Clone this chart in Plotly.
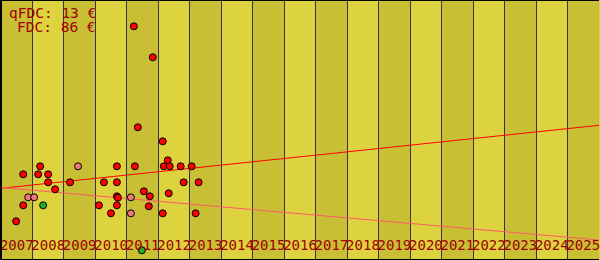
import plotly.graph_objects as go

# ---- data ----
years = list(range(2007, 2026))
year_labels = [str(y) for y in years]

fdc_x = [2006.98, 2007.206, 2007.206, 2007.681, 2007.744, 2007.998, 2007.998, 2008.219,
         2008.694, 2009.613, 2009.771, 2009.993, 2010.183, 2010.183, 2010.183, 2010.214,
         2010.183, 2010.721, 2010.753, 2010.848, 2011.038, 2011.196, 2011.228, 2011.323,
         2011.639, 2011.639, 2011.671, 2011.798, 2011.829, 2011.861, 2012.209, 2012.304,
         2012.558, 2012.684, 2012.779]
fdc_y = [38.7, 85.7, 54.7, 85.7, 93.7, 85.7, 77.7, 70.7,
         77.7, 54.7, 77.7, 46.7, 93.7, 77.7, 63.7, 62.3,
         54.7, 233.7, 93.7, 132.7, 68.7, 53.7, 63.7, 202.7,
         118.7, 46.7, 93.7, 99.7, 66.7, 93.7, 93.7, 77.7,
         93.7, 46.7, 77.7]

qfdc_x = [2007.364, 2007.554, 2008.948, 2010.626, 2010.626]
qfdc_y = [62.7, 62.7, 93.7, 62.7, 46.7]

other_x = [2007.839, 2010.974]
other_y = [54.7, 9.7]

trend_x = [2006.5, 2025.5]
fdc_trend = [71.7, 134.7]
qfdc_trend = [72.5, 20.0]

summary_lines = ["qFDC: 13 €", "FDC: 86 €"]

# ---- styles ----
DARK_BAND = "#c9bf35"
LIGHT_BAND = "#ddd33e"
TEXT_RED = "#a00000"
MONO = "DejaVu Sans Mono"

fig = go.Figure()

fig.add_trace(go.Scatter(x=trend_x, y=fdc_trend, mode="lines",
                         line=dict(color="#ff0000", width=1), hoverinfo="skip"))
fig.add_trace(go.Scatter(x=trend_x, y=qfdc_trend, mode="lines",
                         line=dict(color="#ff5a6a", width=1), hoverinfo="skip"))

marker_line = dict(color="#000000", width=1)
fig.add_trace(go.Scatter(x=fdc_x, y=fdc_y, mode="markers",
                         marker=dict(color="#ff0000", size=7, line=marker_line)))
fig.add_trace(go.Scatter(x=qfdc_x, y=qfdc_y, mode="markers",
                         marker=dict(color="#f07878", size=7, line=marker_line)))
fig.add_trace(go.Scatter(x=other_x, y=other_y, mode="markers",
                         marker=dict(color="#20b020", size=7, line=marker_line)))

# alternating year bands
for i, y in enumerate(years):
    if i % 2 == 0:
        fig.add_shape(type="rect", xref="x", yref="paper",
                      x0=y - 0.5, x1=y + 0.5, y0=0, y1=1,
                      fillcolor=DARK_BAND, line=dict(width=0), layer="below")

# frame (top, bottom, left)
for (x0, y0, x1, y1) in [(0, 1, 1, 1), (0, 0, 1, 0), (0, 0, 0, 1)]:
    fig.add_shape(type="line", xref="paper", yref="paper", x0=x0, y0=y0, x1=x1, y1=y1,
                  line=dict(color="#000000", width=2), layer="above")

boundaries = [y + 0.5 for y in years[:-1]]

fig.update_xaxes(
    range=[years[0] - 0.5, years[-1] + 0.5],
    tickvals=years, ticktext=year_labels,
    ticklabelposition="inside", ticklabeloverflow="allow",
    ticklabelstandoff=4,
    tickangle=0, ticks="",
    tickfont=dict(family=MONO, size=14, color=TEXT_RED),
    showgrid=False, zeroline=False, showline=False,
    minor=dict(tickvals=boundaries, showgrid=True, gridcolor="#333344", gridwidth=1, ticks=""),
)
fig.update_yaxes(range=[0, 260], showticklabels=False, showgrid=False, zeroline=False,
                 showline=False)

fig.add_annotation(xref="paper", yref="paper", x=96 / 600, y=1 - 12.5 / 260,
                   xanchor="right", yanchor="middle", showarrow=False, borderpad=0,
                   text=summary_lines[0], font=dict(family=MONO, size=14.5, color=TEXT_RED))
fig.add_annotation(xref="paper", yref="paper", x=96 / 600, y=1 - 27 / 260,
                   xanchor="right", yanchor="middle", showarrow=False, borderpad=0,
                   text=summary_lines[1], font=dict(family=MONO, size=14.5, color=TEXT_RED))

fig.update_layout(
    width=600, height=260,
    margin=dict(l=0, r=0, t=0, b=0),
    plot_bgcolor=LIGHT_BAND, paper_bgcolor=LIGHT_BAND,
    showlegend=False,
)

fig.write_html("out.html")
